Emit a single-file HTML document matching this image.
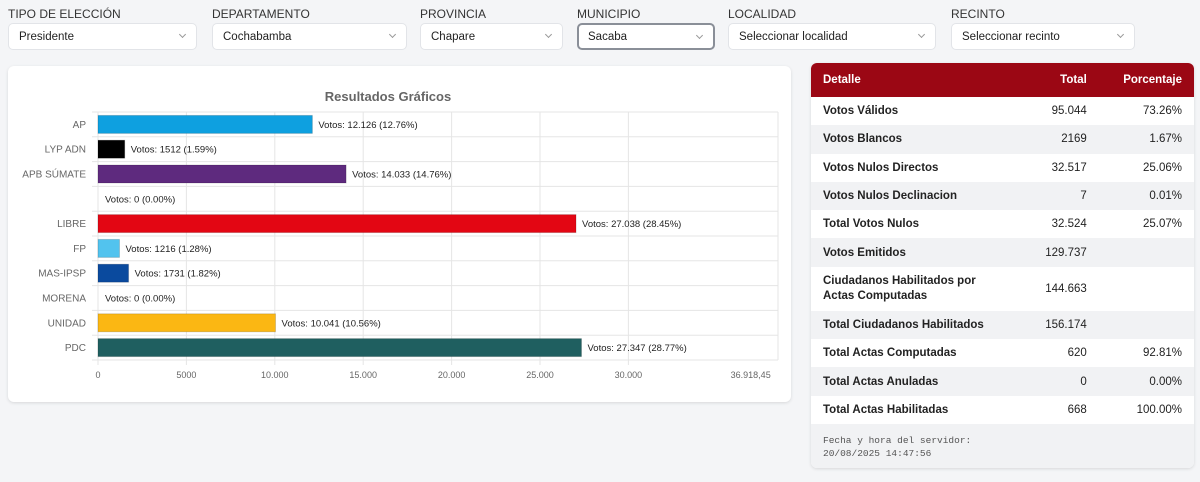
<!DOCTYPE html>
<html><head><meta charset="utf-8">
<style>
*{box-sizing:border-box;margin:0;padding:0}
body{width:1200px;height:482px;background:#f4f5f7;font-family:"Liberation Sans",sans-serif;position:relative;overflow:hidden;color:#222}
.lbl{position:absolute;top:7px;font-size:12px;color:#333}
.sel{position:absolute;top:23px;height:27px;background:#fff;border:1px solid #e2e4e8;border-radius:5px;font-size:11.5px;padding:7px 10px;color:#222}
.sel .ch{position:absolute;right:11px;top:8px;width:5px;height:5px;border-right:1px solid #999;border-bottom:1px solid #999;transform:rotate(45deg)}
.card{position:absolute;background:#fff;border-radius:6px;box-shadow:0 1px 3px rgba(0,0,0,.12)}
table{border-collapse:collapse;width:100%;font-size:11.5px}
td,th{padding:0 12px;height:28.3px}
th{background:#9b0714;color:#fff;text-align:left;height:34px;font-weight:bold}
tr:nth-child(odd) td{background:#f1f2f4}
td:nth-child(2),td:nth-child(3),th:nth-child(2),th:nth-child(3){text-align:right}
td:first-child{font-weight:bold;color:#222}
</style></head><body>
<div class="lbl" style="left:8px">TIPO DE ELECCIÓN</div>
<div class="sel" style="left:8px;width:189px">Presidente<span class="ch"></span></div>
<div class="lbl" style="left:212px">DEPARTAMENTO</div>
<div class="sel" style="left:212px;width:195px">Cochabamba<span class="ch"></span></div>
<div class="lbl" style="left:420px">PROVINCIA</div>
<div class="sel" style="left:420px;width:143px">Chapare<span class="ch"></span></div>
<div class="lbl" style="left:577px">MUNICIPIO</div>
<div class="sel" style="left:577px;width:138px;border:2px solid #8a8f98;padding:6px 9px">Sacaba<span class="ch"></span></div>
<div class="lbl" style="left:728px">LOCALIDAD</div>
<div class="sel" style="left:728px;width:208px">Seleccionar localidad<span class="ch"></span></div>
<div class="lbl" style="left:951px">RECINTO</div>
<div class="sel" style="left:951px;width:184px">Seleccionar recinto<span class="ch"></span></div>

<div class="card" style="left:8px;top:66px;width:783px;height:336px">
<svg id="chart" width="783" height="336" style="position:absolute;left:-8px;top:-66px;overflow:visible"></svg>
</div>

<div class="card" style="left:811px;top:63px;width:383px;height:405px;overflow:hidden">
<table>
<tr><th>Detalle</th><th>Total</th><th>Porcentaje</th></tr>
<tr><td>Votos Válidos</td><td>95.044</td><td>73.26%</td></tr>
<tr><td>Votos Blancos</td><td>2169</td><td>1.67%</td></tr>
<tr><td>Votos Nulos Directos</td><td>32.517</td><td>25.06%</td></tr>
<tr><td>Votos Nulos Declinacion</td><td>7</td><td>0.01%</td></tr>
<tr><td>Total Votos Nulos</td><td>32.524</td><td>25.07%</td></tr>
<tr><td>Votos Emitidos</td><td>129.737</td><td></td></tr>
<tr><td style="height:44px;line-height:15px">Ciudadanos Habilitados por<br>Actas Computadas</td><td>144.663</td><td></td></tr>
<tr><td>Total Ciudadanos Habilitados</td><td>156.174</td><td></td></tr>
<tr><td>Total Actas Computadas</td><td>620</td><td>92.81%</td></tr>
<tr><td>Total Actas Anuladas</td><td>0</td><td>0.00%</td></tr>
<tr><td>Total Actas Habilitadas</td><td>668</td><td>100.00%</td></tr>
</table>
<div style="background:#f1f2f4;padding:10px 12px;font-family:'Liberation Mono',monospace;font-size:9.5px;color:#555;line-height:13px;height:60px">Fecha y hora del servidor:<br>20/08/2025 14:47:56</div>
</div>

<script>
const categories=["AP","LYP ADN","APB SÚMATE","","LIBRE","FP","MAS-IPSP","MORENA","UNIDAD","PDC"];
const votes=[12126,1512,14033,0,27038,1216,1731,0,10041,27347];
const percents=["12.76%","1.59%","14.76%","0.00%","28.45%","1.28%","1.82%","0.00%","10.56%","28.77%"];
const voteLabels=["12.126","1512","14.033","0","27.038","1216","1731","0","10.041","27.347"];
const colors=["#0ea0e0","#000000","#5e2a7e","#888888","#e30613","#52c3ee","#0a4a9e","#888888","#fbb713","#1f5f60"];
const tickValues=[0,5000,10000,15000,20000,25000,30000];
const tickLabels=["0","5000","10.000","15.000","20.000","25.000","30.000"];
const axisMax=36918.45;
const axisMaxLabel="36.918,45";
const svg=document.getElementById('chart');
const NS="http://www.w3.org/2000/svg";
const x0=98,pxPer=88.4/5000,top0=112,rowH=24.8,xr=778;
const X=v=>x0+v*pxPer;
function mk(t,a,txt){const e=document.createElementNS(NS,t);for(const k in a)e.setAttribute(k,a[k]);if(txt!==undefined)e.textContent=txt;svg.appendChild(e);return e;}
let t=mk('text',{x:388,y:101,'text-anchor':'middle','font-size':13,'font-weight':'bold',fill:'#666'},'Resultados Gráficos');

const bottom=top0+rowH*categories.length;
tickValues.forEach((v,i)=>{
 let g=mk('line',{x1:X(v),x2:X(v),y1:top0,y2:bottom+5,stroke:'#e5e5e5'});
 
 let l=mk('text',{x:X(v),y:bottom+18,'text-anchor':'middle','font-size':9,fill:'#666'},tickLabels[i]);
 
});
let mx=mk('text',{x:X(axisMax)+20,y:bottom+18,'text-anchor':'end','font-size':9,fill:'#666'},axisMaxLabel);

mk('line',{x1:xr,x2:xr,y1:top0,y2:bottom,stroke:'#e5e5e5'});
for(let i=0;i<=categories.length;i++){let g=mk('line',{x1:92,x2:xr,y1:top0+i*rowH,y2:top0+i*rowH,stroke:'#e5e5e5'});}
categories.forEach((c,i)=>{
 const cy=top0+i*rowH+rowH/2;
 let l=mk('text',{x:86,y:cy+3.5,'text-anchor':'end','font-size':10,fill:'#666'},c);
 
 const w=votes[i]*pxPer;
 if(votes[i]>0){let b=mk('rect',{x:x0,y:cy-9,width:w,height:18,fill:colors[i],stroke:'rgba(0,0,0,0.15)'});
 }
 let v=mk('text',{x:x0+w+(votes[i]>0?6:7),y:cy+3.5,'font-size':9.5,fill:'#222'},'Votos: '+voteLabels[i]+' ('+percents[i]+')');
 
});
</script>
</body></html>
